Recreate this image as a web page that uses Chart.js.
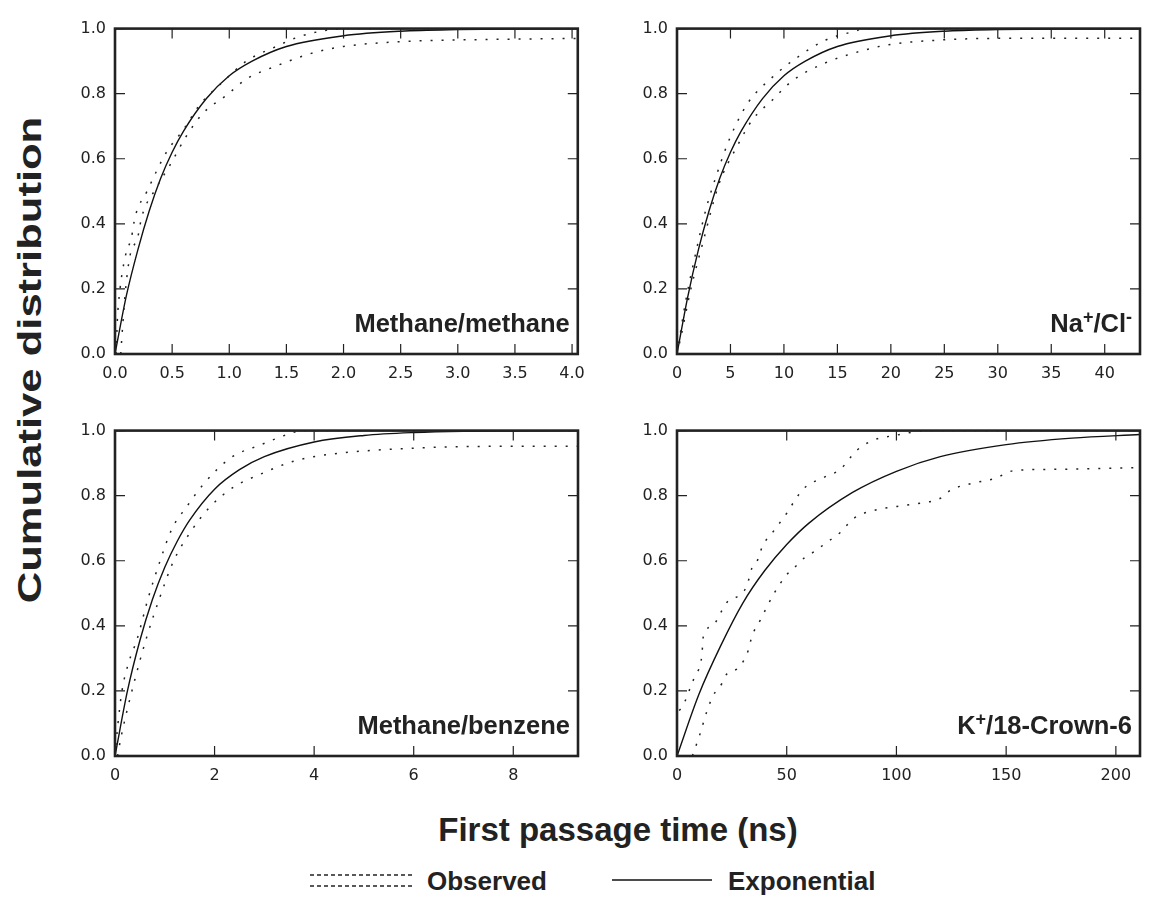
<!DOCTYPE html>
<html>
<head>
<meta charset="utf-8">
<script src="https://cdn.jsdelivr.net/npm/chart.js@4.4.0/dist/chart.umd.min.js"></script>
<style>
  body { margin: 0; background: #fff; }
  #wrap { position: relative; width: 1149px; height: 909px; background: #fff; overflow: hidden; }
  canvas { position: absolute; }
  .title { position: absolute; font: bold 33px "Liberation Sans", Arial, sans-serif; color: #222; white-space: nowrap; }
  .leg { position: absolute; font: bold 26px "Liberation Sans", Arial, sans-serif; color: #222; white-space: nowrap; transform: translateY(-50%); }
  svg { position: absolute; }
</style>
</head>
<body>
<div id="wrap">
  <canvas id="c1" width="540" height="380" style="left:55px;top:10px"></canvas>
  <canvas id="c2" width="532" height="380" style="left:617px;top:10px"></canvas>
  <canvas id="c3" width="540" height="380" style="left:55px;top:412px"></canvas>
  <canvas id="c4" width="532" height="380" style="left:617px;top:412px"></canvas>

  <div class="title" style="left:30px;top:360px;transform:translate(-50%,-50%) rotate(-90deg) scaleX(1.32)">Cumulative distribution</div>
  <div class="title" style="left:618px;top:830px;transform:translate(-50%,-50%)">First passage time (ns)</div>

  <svg style="left:308px;top:869px" width="106" height="22">
    <line x1="2" y1="6" x2="104" y2="6" stroke="#222" stroke-width="1.3" stroke-dasharray="4,3"/>
    <line x1="2" y1="17" x2="104" y2="17" stroke="#222" stroke-width="1.3" stroke-dasharray="4,3"/>
  </svg>
  <div class="leg" style="left:427px;top:881px">Observed</div>
  <svg style="left:610px;top:870px" width="104" height="20">
    <line x1="2" y1="10" x2="102" y2="10" stroke="#111" stroke-width="1.4"/>
  </svg>
  <div class="leg" style="left:728px;top:881px">Exponential</div>
</div>

<script>
// Methane/methane (time in ns, cumulative fraction)
const mmExpT = [0, 0.1, 0.2, 0.3, 0.4, 0.5, 0.6, 0.8, 1.0, 1.2, 1.5, 2.0, 2.5, 3.0, 3.5, 4.05];
const mmExpF = [0, 0.18, 0.32, 0.44, 0.54, 0.62, 0.685, 0.785, 0.855, 0.9, 0.945, 0.978, 0.992, 0.997, 0.999, 1.0];
const mmUpT = [0.01, 0.02, 0.044, 0.09, 0.145, 0.175, 0.28, 0.45, 0.6, 0.74, 0.94, 1.15, 1.41, 1.61, 1.85, 2.0, 4.05];
const mmUpF = [0, 0.1, 0.2, 0.3, 0.36, 0.42, 0.5, 0.62, 0.69, 0.765, 0.835, 0.9, 0.945, 0.975, 0.995, 1.0, 1.0];
const mmLowT = [0.05, 0.07, 0.093, 0.13, 0.2, 0.233, 0.36, 0.48, 0.625, 0.77, 0.975, 1.15, 1.41, 1.73, 2.0, 2.5, 3.0, 4.05];
const mmLowF = [0, 0.1, 0.2, 0.3, 0.36, 0.42, 0.51, 0.58, 0.67, 0.74, 0.795, 0.845, 0.885, 0.925, 0.945, 0.96, 0.965, 0.97];

// Na+/Cl-
const naExpT = [0, 1, 2, 3, 4, 5, 6, 8, 10, 12, 15, 20, 25, 30, 35, 43.3];
const naExpF = [0, 0.175, 0.32, 0.44, 0.54, 0.62, 0.685, 0.785, 0.855, 0.9, 0.945, 0.978, 0.992, 0.997, 0.999, 1.0];
const naUpT = [0, 0.8, 1.75, 2.75, 3.8, 4.9, 6.6, 8.9, 11.4, 13.9, 16.4, 17.7, 43.3];
const naUpF = [0, 0.16, 0.31, 0.45, 0.56, 0.66, 0.77, 0.85, 0.915, 0.965, 0.99, 1.0, 1.0];
const naLowT = [0, 0.35, 1.3, 2.4, 3.9, 5.65, 7.06, 8.9, 10.8, 13.9, 17.1, 19.7, 24.7, 30, 43.3];
const naLowF = [0, 0.05, 0.2, 0.34, 0.52, 0.64, 0.72, 0.78, 0.84, 0.895, 0.93, 0.95, 0.965, 0.97, 0.97];

// Methane/benzene
const mbExpT = [0, 0.25, 0.5, 0.75, 1, 1.25, 1.5, 2, 2.5, 3, 4, 5, 6, 7, 8, 9.3];
const mbExpF = [0, 0.2, 0.355, 0.48, 0.58, 0.66, 0.725, 0.82, 0.88, 0.92, 0.965, 0.985, 0.994, 0.998, 0.999, 1.0];
const mbUpT = [0, 0.06, 0.14, 0.28, 0.44, 0.67, 0.9, 1.14, 1.44, 1.78, 2.32, 2.92, 3.52, 3.75, 9.3];
const mbUpF = [0, 0.1, 0.2, 0.29, 0.357, 0.487, 0.597, 0.697, 0.766, 0.836, 0.916, 0.956, 0.991, 1.0, 1.0];
const mbLowT = [0.05, 0.135, 0.37, 0.64, 0.9, 1.17, 1.51, 1.91, 2.38, 2.92, 3.59, 4.26, 6.0, 8.0, 9.3];
const mbLowF = [0, 0.068, 0.218, 0.367, 0.487, 0.597, 0.687, 0.766, 0.826, 0.866, 0.906, 0.926, 0.946, 0.952, 0.952];

// K+/18-Crown-6
const kExpT = [0, 10, 20, 30, 40, 50, 60, 80, 100, 120, 150, 180, 211];
const kExpF = [0, 0.19, 0.34, 0.47, 0.57, 0.65, 0.715, 0.81, 0.875, 0.92, 0.957, 0.977, 0.988];
const kUpT = [1, 2.6, 5.9, 8.2, 11.3, 12, 16.6, 19.6, 23.4, 28, 31.8, 34.1, 37.1, 38.7, 44, 50, 54.7, 58.4, 66.8, 74.4, 82, 89.6, 100, 108, 112, 211];
const kUpF = [0.14, 0.153, 0.207, 0.247, 0.307, 0.367, 0.402, 0.437, 0.477, 0.492, 0.522, 0.577, 0.607, 0.641, 0.691, 0.746, 0.796, 0.826, 0.856, 0.881, 0.94, 0.971, 0.986, 0.996, 1.0, 1.0];
const kLowT = [7, 10.5, 13.6, 16.6, 20.4, 22.7, 27.2, 30.3, 32.6, 34.1, 37.9, 40.9, 44, 50, 54.7, 57.7, 62.3, 68.4, 74.4, 80.5, 91.2, 100.3, 111, 120, 124.7, 133.8, 144.4, 153.6, 171.8, 211];
const kLowF = [0, 0.068, 0.137, 0.187, 0.222, 0.252, 0.267, 0.292, 0.327, 0.367, 0.417, 0.457, 0.497, 0.557, 0.587, 0.607, 0.627, 0.657, 0.687, 0.73, 0.757, 0.767, 0.777, 0.792, 0.817, 0.837, 0.852, 0.877, 0.881, 0.886];

// y ticks shared by all panels
const yTicks = [0, 0.2, 0.4, 0.6, 0.8, 1.0];

function pairs(t, f) {
  return t.map(function(v, i) { return {x: v, y: f[i]}; });
}

function dotted(t, f) {
  return {data: pairs(t, f), showLine: true, borderColor: '#222', borderWidth: 1.5,
    borderDash: [2, 9], pointRadius: 0, cubicInterpolationMode: 'monotone'};
}

function solid(t, f) {
  return {data: pairs(t, f), showLine: true, borderColor: '#111', borderWidth: 1.4,
    pointRadius: 0, cubicInterpolationMode: 'monotone'};
}

// frame and inward ticks on all four sides
const framePlugin = {
  id: 'frame',
  afterDraw: function(chart) {
    const ctx = chart.ctx, a = chart.chartArea;
    const xs = chart.scales.x, ys = chart.scales.y;
    ctx.save();
    ctx.strokeStyle = '#222';
    ctx.lineWidth = 1.2;
    ctx.beginPath();
    xs.ticks.forEach(function(t) {
      const px = xs.getPixelForValue(t.value);
      ctx.moveTo(px, a.bottom); ctx.lineTo(px, a.bottom - 10);
      ctx.moveTo(px, a.top); ctx.lineTo(px, a.top + 10);
    });
    ys.ticks.forEach(function(t) {
      const py = ys.getPixelForValue(t.value);
      ctx.moveTo(a.left, py); ctx.lineTo(a.left + 10, py);
      ctx.moveTo(a.right, py); ctx.lineTo(a.right - 10, py);
    });
    ctx.stroke();
    ctx.lineWidth = 2.6;
    ctx.strokeRect(a.left, a.top, a.right - a.left, a.bottom - a.top);
    ctx.restore();
  }
};

// panel name in the lower right corner, parts flagged 1 are superscript
const labelPlugin = {
  id: 'panelLabel',
  afterDraw: function(chart, args, opts) {
    const ctx = chart.ctx, a = chart.chartArea;
    const big = 'bold 25.5px "Liberation Sans", Arial, sans-serif';
    const small = 'bold 18px "Liberation Sans", Arial, sans-serif';
    ctx.save();
    let w = 0;
    opts.parts.forEach(function(p) { ctx.font = p[1] ? small : big; w += ctx.measureText(p[0]).width; });
    let x = a.right - 8 - w;
    const y = a.bottom - 22;
    ctx.fillStyle = '#222';
    ctx.textBaseline = 'alphabetic';
    opts.parts.forEach(function(p) {
      ctx.font = p[1] ? small : big;
      ctx.fillText(p[0], x, p[1] ? y - 9 : y);
      x += ctx.measureText(p[0]).width;
    });
    ctx.restore();
  }
};

function makeChart(id, datasets, xMax, xStep, xDigits, rightPad, parts) {
  const tickFont = {family: '"DejaVu Sans", sans-serif', size: 16};
  return new Chart(document.getElementById(id), {
    type: 'scatter',
    data: {datasets: datasets},
    options: {
      responsive: false,
      animation: false,
      devicePixelRatio: 1,
      layout: {padding: {top: 10, right: rightPad, left: 0, bottom: 0}},
      plugins: {legend: {display: false}, tooltip: {enabled: false}, panelLabel: {parts: parts}},
      scales: {
        x: {
          type: 'linear', min: 0, max: xMax,
          grid: {display: false, drawTicks: false}, border: {display: false},
          ticks: {stepSize: xStep, includeBounds: false, padding: 10, color: '#222', font: tickFont,
            maxRotation: 0, autoSkip: false,
            callback: function(v) { return v.toFixed(xDigits); }},
          afterFit: function(s) { s.height = 36; }
        },
        y: {
          min: 0, max: 1,
          grid: {display: false, drawTicks: false}, border: {display: false},
          afterBuildTicks: function(s) { s.ticks = yTicks.map(function(v) { return {value: v}; }); },
          ticks: {padding: 9, color: '#222', font: tickFont,
            callback: function(v) { return v.toFixed(1); }},
          afterFit: function(s) { s.width = 60; }
        }
      }
    },
    plugins: [framePlugin, labelPlugin]
  });
}

makeChart('c1', [dotted(mmUpT, mmUpF), dotted(mmLowT, mmLowF), solid(mmExpT, mmExpF)],
  4.05, 0.5, 1, 17, [['Methane/methane', 0]]);
makeChart('c2', [dotted(naUpT, naUpF), dotted(naLowT, naLowF), solid(naExpT, naExpF)],
  43.3, 5, 0, 9, [['Na', 0], ['+', 1], ['/Cl', 0], ['-', 1]]);
makeChart('c3', [dotted(mbUpT, mbUpF), dotted(mbLowT, mbLowF), solid(mbExpT, mbExpF)],
  9.3, 2, 0, 17, [['Methane/benzene', 0]]);
makeChart('c4', [dotted(kUpT, kUpF), dotted(kLowT, kLowF), solid(kExpT, kExpF)],
  211, 50, 0, 9, [['K', 0], ['+', 1], ['/18-Crown-6', 0]]);
</script>
</body>
</html>
